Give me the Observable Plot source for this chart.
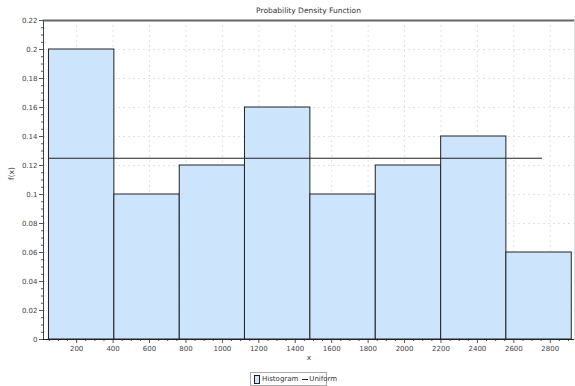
<!DOCTYPE html>
<html>
<head>
<meta charset="utf-8">
<script src="https://cdn.jsdelivr.net/npm/d3@7"></script>
<script src="https://cdn.jsdelivr.net/npm/@observablehq/plot@0.6"></script>
<style>
  html, body { margin: 0; padding: 0; background: #fff; }
  #wrap { position: relative; width: 575px; height: 386px; font-family: "DejaVu Sans", sans-serif; }
  #title { position: absolute; left: 43px; width: 531px; top: 6px; text-align: center; font-size: 7.5px; color: #333; }
  #legend { position: absolute; left: 250px; top: 372px; width: 77px; height: 14px; border: 1px solid #aaa; box-sizing: border-box; font-size: 7px; color: #333; display: flex; align-items: center; padding-left: 3px; white-space: nowrap; }
  .sw { flex: 0 0 auto; display: inline-block; width: 4px; height: 7px; border: 1px solid #222; background: #cce5fc; margin-right: 2px; }
  .ln { flex: 0 0 auto; display: inline-block; width: 6px; height: 1px; background: #222; margin-left: 4px; margin-right: 1px; }
</style>
</head>
<body>
<div id="wrap">
  <div id="chart"></div>
  <div id="title">Probability Density Function</div>
  <div id="legend"><span class="sw"></span><span>Histogram</span><span class="ln"></span><span>Uniform</span></div>
</div>
<script>
const binEdges = [48, 407, 766, 1124, 1483, 1842, 2201, 2559, 2918];
const binHeights = [0.2, 0.1, 0.12, 0.16, 0.1, 0.12, 0.14, 0.06];
const uniformValue = 0.125;
const uniformStart = 48;
const uniformEnd = 2757;
const xTicks = [200, 400, 600, 800, 1000, 1200, 1400, 1600, 1800, 2000, 2200, 2400, 2600, 2800];
const yTicks = [0, 0.02, 0.04, 0.06, 0.08, 0.1, 0.12, 0.14, 0.16, 0.18, 0.2, 0.22];

const bins = binHeights.map((h, i) => ({x1: binEdges[i], x2: binEdges[i + 1], y: h}));
const xMinor = d3.range(50, 2933, 50).filter(v => v % 200 !== 0);
const yMinor = d3.range(0, 0.2201, 0.005).filter(v => Math.abs(v / 0.02 - Math.round(v / 0.02)) > 1e-6);

const chart = Plot.plot({
  width: 575,
  height: 386,
  marginLeft: 43,
  marginRight: 1,
  marginTop: 20,
  marginBottom: 47,
  style: {fontFamily: "DejaVu Sans, sans-serif", fontSize: "7px", color: "#444", background: "#fff"},
  x: {domain: [18, 2933], ticks: xTicks, tickSize: 0, label: null},
  y: {domain: [0, 0.22], ticks: yTicks, tickSize: 0, label: null},
  marks: [
    Plot.gridX(xTicks, {stroke: "#e2e2e2", strokeOpacity: 1, strokeDasharray: "2,3"}),
    Plot.gridY(yTicks, {stroke: "#e2e2e2", strokeOpacity: 1, strokeDasharray: "2,3"}),
    Plot.rect(bins, {x1: "x1", x2: "x2", y1: 0, y2: "y", fill: "#cce5fc", stroke: "#222", strokeWidth: 1}),
    Plot.ruleY([uniformValue], {x1: uniformStart, x2: uniformEnd, stroke: "#222", strokeWidth: 1.2}),
    Plot.axisX({ticks: xTicks, tickSize: 4, tickPadding: 3, fill: "#444", stroke: "#555", tickFormat: d => String(d)}),
    Plot.axisX({ticks: xMinor, tickSize: 2, text: null, stroke: "#555"}),
    Plot.axisY({ticks: yTicks, tickSize: 4, tickPadding: 2, fill: "#444", stroke: "#555", tickFormat: d => d === 0 ? "0" : String(+d.toFixed(2))}),
    Plot.axisY({ticks: yMinor, tickSize: 2, text: null, stroke: "#555"}),
    Plot.frame({anchor: "left", stroke: "#444"}),
    Plot.frame({anchor: "bottom", stroke: "#222"}),
    Plot.frame({anchor: "top", stroke: "#666", strokeWidth: 2}),
    Plot.frame({anchor: "right", stroke: "#ddd"}),
    Plot.text(["x"], {frameAnchor: "bottom", dy: 20, fill: "#444", fontSize: 7.5}),
    Plot.text(["f(x)"], {frameAnchor: "left", dx: -32, rotate: -90, fill: "#444", fontSize: 7.5})
  ]
});
document.getElementById("chart").appendChild(chart);
</script>
</body>
</html>
